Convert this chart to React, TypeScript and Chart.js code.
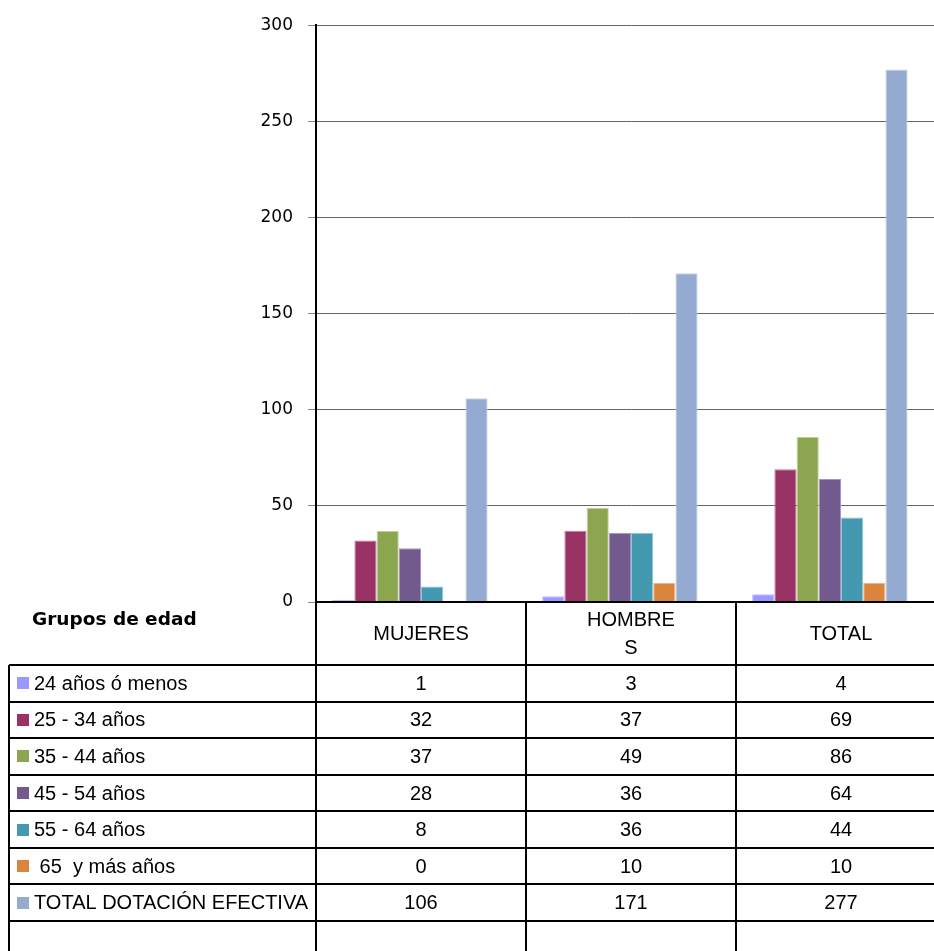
import { useEffect, useRef } from 'react';
import { Chart, registerables } from 'chart.js';

Chart.register(...registerables);

// ---- data ----
const categories: (string | string[])[] = ['MUJERES', ['HOMBRE', 'S'], 'TOTAL'];
const seriesNames = [
  '24 años ó menos',
  '25 - 34 años',
  '35 - 44 años',
  '45 - 54 años',
  '55 - 64 años',
  ' 65  y más años',
  'TOTAL DOTACIÓN EFECTIVA',
];
const v24 = [1, 3, 4];
const v25 = [32, 37, 69];
const v35 = [37, 49, 86];
const v45 = [28, 36, 64];
const v55 = [8, 36, 44];
const v65 = [0, 10, 10];
const vTotal = [106, 171, 277];
const yMin = 0;
const yMax = 300;
const yStep = 50;
const tableTitle = 'Grupos de edad';

// ---- styles ----
const fillColors = ['#9999FF', '#993366', '#8BA64F', '#72598E', '#4399B0', '#DB843D', '#95AAD1'];
const edgeColors = ['#B8B8FF', '#C07A9A', '#C3D69B', '#A595BE', '#8FC7D6', '#F0B888', '#C5D2EA'];

const seriesValues = [v24, v25, v35, v45, v55, v65, vTotal];

const tablePlugin = {
  id: 'dataTable',
  afterDraw(chart: any) {
    const ctx: CanvasRenderingContext2D = chart.ctx;
    const xs = chart.scales.x;
    const area = chart.chartArea;
    const colW = xs.width / categories.length;
    const top = area.bottom;
    const headerH = 63;
    const rowTop = top + headerH;
    const rowH = 36.57;
    const nRows = seriesNames.length + 1;
    const bottom = chart.height;
    const tableLeft = 9;
    const right = chart.width;

    ctx.save();
    ctx.strokeStyle = '#000';
    ctx.lineWidth = 2;
    const line = (x1: number, y1: number, x2: number, y2: number) => {
      ctx.beginPath();
      ctx.moveTo(x1, y1);
      ctx.lineTo(x2, y2);
      ctx.stroke();
    };
    line(area.left, top, right, top);
    for (let r = 0; r <= nRows; r++) {
      const y = Math.round(rowTop + r * rowH);
      line(tableLeft, y, right, y);
    }
    line(tableLeft, rowTop, tableLeft, bottom);
    for (let i = 0; i <= categories.length; i++) {
      const ex = area.left + i * colW;
      line(ex, top, ex, bottom);
    }

    ctx.fillStyle = '#000';
    ctx.font = '20px "Liberation Sans", Arial, sans-serif';
    ctx.textAlign = 'center';
    ctx.textBaseline = 'middle';
    categories.forEach((c, i) => {
      const cx = xs.getPixelForValue(i);
      const lines = Array.isArray(c) ? c : [c];
      const lh = 28;
      const y0 = top + headerH / 2 - ((lines.length - 1) * lh) / 2;
      lines.forEach((t, k) => ctx.fillText(t, cx, y0 + k * lh + 1));
    });

    seriesValues.forEach((vals, s) => {
      const cy = rowTop + s * rowH + rowH / 2 + 1;
      vals.forEach((v, i) => {
        ctx.fillText(String(v), xs.getPixelForValue(i), cy);
      });
    });

    ctx.textAlign = 'left';
    seriesNames.forEach((name, s) => {
      const cy = rowTop + s * rowH + rowH / 2;
      ctx.fillStyle = fillColors[s];
      ctx.fillRect(17, Math.round(cy - 6), 12, 12);
      ctx.fillStyle = '#000';
      ctx.fillText(name, 34, cy + 1);
    });

    ctx.font = 'bold 18.5px "DejaVu Sans", sans-serif';
    ctx.textBaseline = 'alphabetic';
    ctx.fillText(tableTitle, 32, 625);
    ctx.restore();
  },
};

export default function App() {
  const ref = useRef<HTMLCanvasElement | null>(null);

  useEffect(() => {
    if (!ref.current) return;
    const datasets: any[] = seriesNames.map((name, i) => ({
      label: name,
      data: seriesValues[i],
      backgroundColor: fillColors[i],
      borderColor: edgeColors[i],
      borderWidth: 1,
      categoryPercentage: 0.846,
      barPercentage: 1.0,
    }));
    // empty slot that Excel leaves at the end of each group
    datasets.push({
      label: '',
      data: categories.map(() => null),
      backgroundColor: 'rgba(0,0,0,0)',
      categoryPercentage: 0.846,
      barPercentage: 1.0,
    });

    const chart = new Chart(ref.current, {
      type: 'bar',
      data: { labels: categories as any, datasets },
      options: {
        responsive: false,
        animation: false,
        events: [],
        layout: { padding: { top: 25, right: 4, bottom: 349, left: 0 } },
        plugins: { legend: { display: false }, tooltip: { enabled: false } },
        scales: {
          x: {
            type: 'category',
            offset: true,
            ticks: { display: false },
            grid: { display: false },
            border: { display: true, color: '#000', width: 2 },
            afterFit: (s: any) => {
              s.height = 0;
            },
          },
          y: {
            min: yMin,
            max: yMax,
            ticks: {
              stepSize: yStep,
              color: '#000',
              padding: 15,
              font: { family: '"DejaVu Sans", sans-serif', size: 17 },
            },
            grid: { color: '#666666', tickColor: '#8a8a8a', tickLength: 8, lineWidth: 1 },
            border: { display: true, color: '#000', width: 2 },
            afterFit: (s: any) => {
              s.width = 316;
            },
          },
        },
      },
      plugins: [tablePlugin],
    });
    return () => chart.destroy();
  }, []);

  return (
    <div style={{ position: 'absolute', left: 0, top: 0, width: 934, height: 951, overflow: 'hidden', background: '#fff' }}>
      <canvas ref={ref} width={950} height={951} style={{ width: 950, height: 951, display: 'block' }} />
    </div>
  );
}
